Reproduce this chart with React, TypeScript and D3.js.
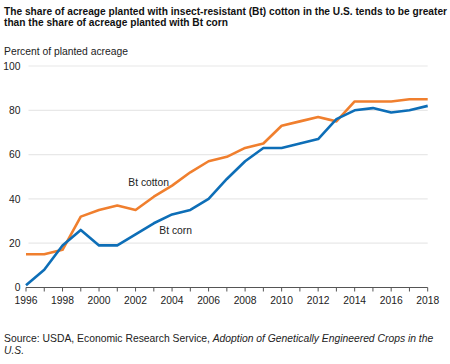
import React from "react";
import * as d3 from "d3";

const years = d3.range(1996, 2019);
const btCotton = [15, 15, 17, 32, 35, 37, 35, 41, 46, 52, 57, 59, 63, 65, 73, 75, 77, 75, 84, 84, 84, 85, 85];
const btCorn = [1, 8, 19, 26, 19, 19, 24, 29, 33, 35, 40, 49, 57, 63, 63, 65, 67, 76, 80, 81, 79, 80, 82];
const yTicks = [0, 20, 40, 60, 80, 100];
const xTickLabels = [1996, 1998, 2000, 2002, 2004, 2006, 2008, 2010, 2012, 2014, 2016, 2018];

const W = 450;
const H = 364;
const FONT = "'Liberation Sans', Arial, Helvetica, sans-serif";
const ORANGE = "#f07f2e";
const BLUE = "#0d6eb7";
const FS = 10.3;

export default function App() {
  const x = d3.scaleLinear().domain([1996, 2018]).range([26, 427.7]);
  const y = d3.scaleLinear().domain([0, 100]).range([287.5, 66]);
  const line = d3
    .line<number>()
    .x((_, i) => x(years[i]))
    .y((d) => y(d));

  return (
    <svg
      width={W}
      height={H}
      style={{ position: "absolute", left: 0, top: 0, background: "#fff" }}
      fontFamily={FONT}
    >
      <text x={4} y={14.5} fontSize={10} fontWeight="bold" fill="#111" textLength={443} lengthAdjust="spacingAndGlyphs">
        The share of acreage planted with insect-resistant (Bt) cotton in the U.S. tends to be greater
      </text>
      <text x={4} y={25.5} fontSize={10} fontWeight="bold" fill="#111" textLength={224} lengthAdjust="spacingAndGlyphs">
        than the share of acreage planted with Bt corn
      </text>
      <text x={4} y={55} fontSize={FS} fill="#222" textLength={124} lengthAdjust="spacingAndGlyphs">
        Percent of planted acreage
      </text>

      {yTicks.map((t) => (
        <g key={t}>
          {t > 0 && (
            <line x1={28.5} x2={427.7} y1={y(t)} y2={y(t)} stroke="#e8e8e8" strokeWidth={1.2} />
          )}
          <text x={20.5} y={y(t) + 3.7} fontSize={FS} textAnchor="end" fill="#222">
            {t}
          </text>
        </g>
      ))}

      <line x1={26} x2={427.7} y1={y(0)} y2={y(0)} stroke="#555" strokeWidth={1} />
      {years.map((yr) => (
        <line key={yr} x1={x(yr)} x2={x(yr)} y1={y(0)} y2={y(0) + 4} stroke="#555" strokeWidth={1} />
      ))}
      {xTickLabels.map((yr) => (
        <text key={yr} x={x(yr)} y={303.7} fontSize={FS} textAnchor="middle" fill="#222">
          {yr}
        </text>
      ))}

      <path d={line(btCotton) || ""} fill="none" stroke={ORANGE} strokeWidth={2.6} strokeLinejoin="round" />
      <path d={line(btCorn) || ""} fill="none" stroke={BLUE} strokeWidth={2.6} strokeLinejoin="round" />

      <text x={128.3} y={186} fontSize={FS} fill="#222">
        Bt cotton
      </text>
      <text x={159.3} y={233.7} fontSize={FS} fill="#222">
        Bt corn
      </text>

      <text x={4} y={341.5} fontSize={FS} fill="#222" textLength={206} lengthAdjust="spacingAndGlyphs">
        Source: USDA, Economic Research Service,
      </text>
      <text x={212.7} y={341.5} fontSize={FS} fill="#222" fontStyle="italic" textLength={220.5} lengthAdjust="spacingAndGlyphs">
        Adoption of Genetically Engineered Crops in the
      </text>
      <text x={4} y={354} fontSize={FS} fill="#222" fontStyle="italic">
        U.S.
      </text>
    </svg>
  );
}
